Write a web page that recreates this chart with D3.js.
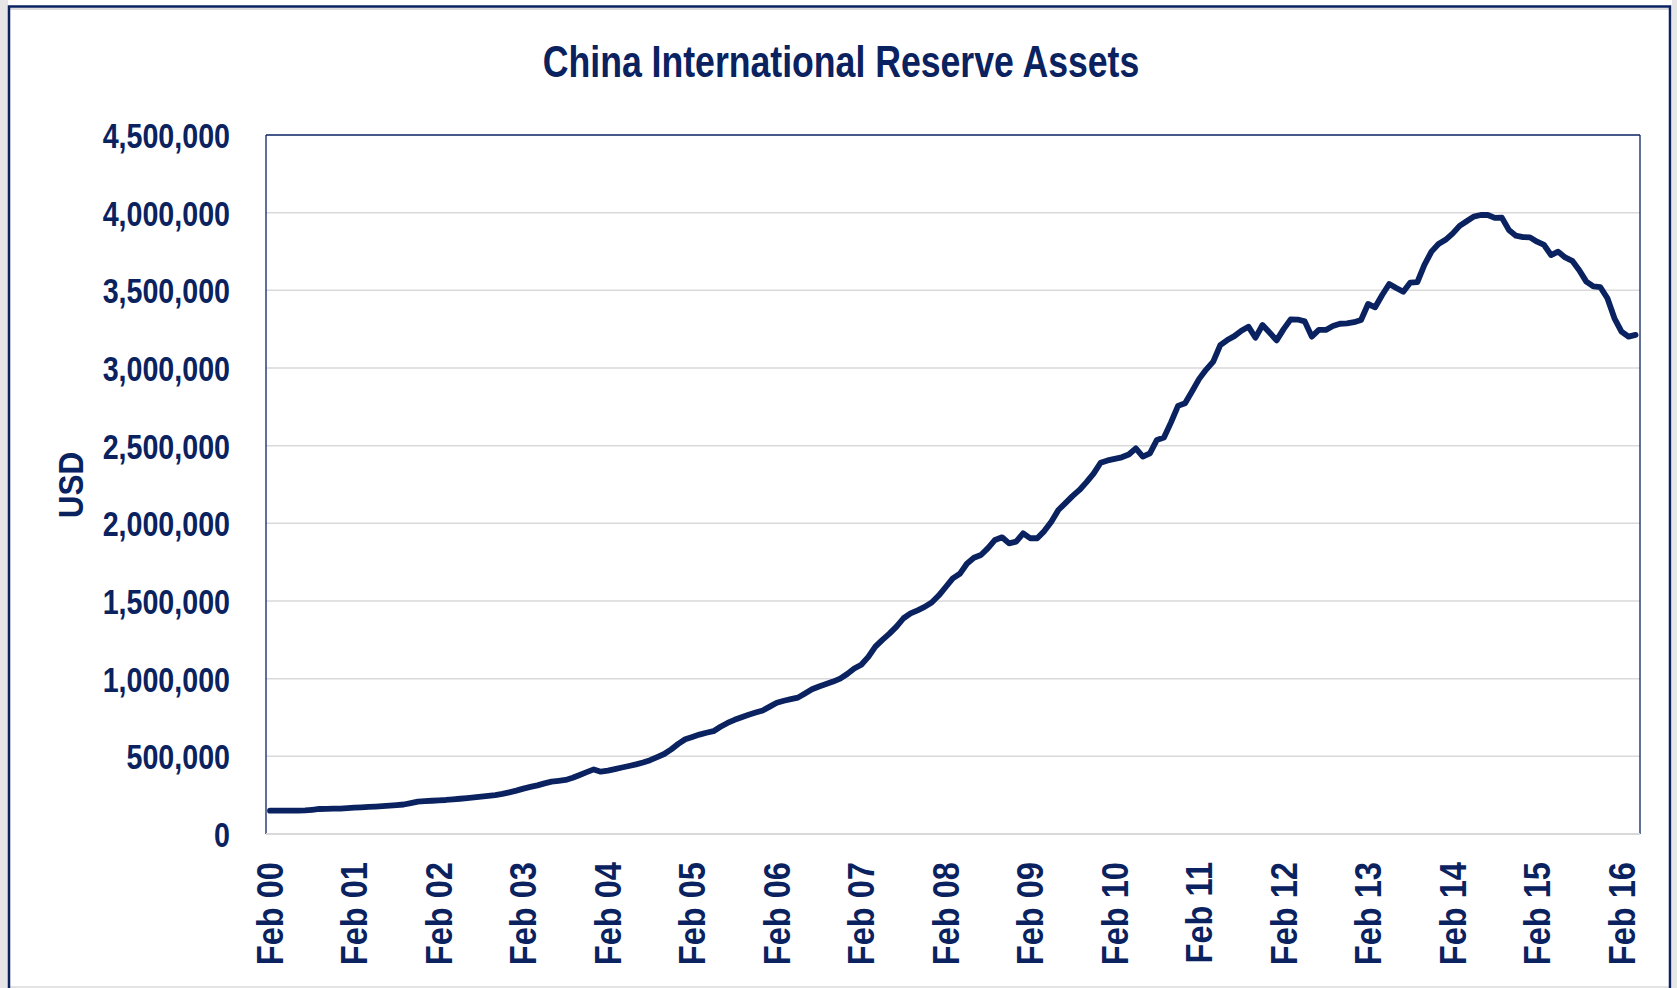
<!DOCTYPE html>
<html>
<head>
<meta charset="utf-8">
<script src="https://cdn.jsdelivr.net/npm/d3@7"></script>
<style>
  html, body { margin: 0; padding: 0; background: #ffffff; }
  svg { display: block; }
  text { font-family: "Liberation Sans", Arial, sans-serif; font-weight: bold; fill: #0a2260; }
</style>
</head>
<body>
<svg id="chart" width="1677" height="988"></svg>
<script>
// ---- data ----
const title = "China International Reserve Assets";
const yAxisTitle = "USD";
// monthly values, Feb 2000 .. Apr 2016
const reserves = [
  150000,150000,150000,151000,151000,152000,156000,161000,162000,163000,164000,
  167000,170000,172000,174000,176000,179000,182000,186000,190000,199000,208000,211000,
  214000,217000,219000,223000,227000,231000,236000,241000,246000,251000,258000,268000,
  279000,292000,303000,313000,326000,337000,342000,348000,362000,380000,398000,416000,
  401000,408000,418000,428000,438000,448000,460000,475000,495000,515000,545000,580000,
  610000,625000,640000,652000,662000,690000,715000,735000,752000,768000,782000,795000,
  820000,845000,858000,868000,878000,905000,932000,950000,966000,981000,1000000,1030000,
  1065000,1090000,1140000,1206000,1250000,1290000,1335000,1389000,1420000,1440000,1462000,1490000,
  1535000,1590000,1646000,1675000,1740000,1778000,1796000,1840000,1893000,1910000,1871000,1882000,
  1936000,1904000,1904000,1950000,2010000,2086000,2130000,2175000,2215000,2265000,2320000,2390000,
  2405000,2415000,2425000,2443000,2483000,2430000,2451000,2537000,2552000,2650000,2756000,2773000,
  2850000,2930000,2990000,3041000,3148000,3180000,3205000,3240000,3266000,3195000,3277000,3228000,
  3178000,3250000,3313000,3312000,3300000,3202000,3245000,3245000,3270000,3285000,3287000,3295000,
  3309000,3412000,3391000,3470000,3541000,3515000,3491000,3550000,3553000,3664000,3749000,3798000,
  3825000,3865000,3915000,3945000,3975000,3985000,3985000,3966000,3968000,3889000,3852000,3843000,
  3841000,3813000,3792000,3727000,3749000,3712000,3690000,3630000,3556000,3525000,3520000,3449000,
  3320000,3234000,3202000,3213000
];
const xTickLabels = ["Feb 00","Feb 01","Feb 02","Feb 03","Feb 04","Feb 05","Feb 06","Feb 07",
  "Feb 08","Feb 09","Feb 10","Feb 11","Feb 12","Feb 13","Feb 14","Feb 15","Feb 16"];
const xTickMonths = [0,12,24,36,48,60,72,84,96,108,120,132,144,156,168,180,192];
const yTicks = [0,500000,1000000,1500000,2000000,2500000,3000000,3500000,4000000,4500000];

// ---- layout ----
const NAVY = "#0a2260";
const plot = { left: 266, right: 1640, top: 135, bottom: 834 };

const svg = d3.select("#chart");

// outer frame
svg.append("rect").attr("x", 0).attr("y", 0).attr("width", 8).attr("height", 988).attr("fill", "#e6e6e6");
svg.append("rect").attr("x", 1672).attr("y", 0).attr("width", 5).attr("height", 988).attr("fill", "#e6e6e6");
svg.append("rect").attr("x", 9).attr("y", 8).attr("width", 1662).attr("height", 2).attr("fill", "#dcdcdc");
svg.append("rect").attr("x", 9).attr("y", 986).attr("width", 1662).attr("height", 2).attr("fill", "#e3e3e3");
svg.append("rect").attr("x", 9).attr("y", 6.5).attr("width", 1661).attr("height", 1000)
  .attr("fill", "none").attr("stroke", NAVY).attr("stroke-width", 2.5);

const x = d3.scaleLinear().domain([0, 192]).range([270, 1621.5]);
const y = d3.scaleLinear().domain([0, 4500000]).range([plot.bottom, plot.top]);

// gridlines
svg.append("g").selectAll("line").data(yTicks.filter(d => d > 0 && d < 4500000)).join("line")
  .attr("x1", plot.left).attr("x2", plot.right)
  .attr("y1", d => y(d)).attr("y2", d => y(d))
  .attr("stroke", "#d9d9d9").attr("stroke-width", 1.5);

// plot border: navy top/left/right, gray bottom
svg.append("line").attr("x1", plot.left).attr("x2", plot.right).attr("y1", y(4500000)).attr("y2", y(4500000))
  .attr("stroke", NAVY).attr("stroke-width", 1.5);
svg.append("line").attr("x1", plot.left).attr("x2", plot.left).attr("y1", plot.top).attr("y2", plot.bottom)
  .attr("stroke", NAVY).attr("stroke-width", 1.3);
svg.append("line").attr("x1", plot.right).attr("x2", plot.right).attr("y1", plot.top).attr("y2", plot.bottom)
  .attr("stroke", NAVY).attr("stroke-width", 1.3);
svg.append("line").attr("x1", plot.left).attr("x2", plot.right).attr("y1", y(0)).attr("y2", y(0))
  .attr("stroke", "#d9d9d9").attr("stroke-width", 1.8);

// y axis labels (via d3 axis, restyled)
const yAxis = d3.axisLeft(y).tickValues(yTicks).tickSize(0).tickPadding(0).tickFormat(d3.format(","));
const yg = svg.append("g").attr("transform", "translate(230,0)").call(yAxis);
yg.select(".domain").remove();
yg.selectAll(".tick text")
  .attr("x", 0).attr("dy", null).attr("y", 0)
  .attr("font-size", 34.5).attr("fill", NAVY)
  .attr("font-family", "'Liberation Sans', Arial, sans-serif").attr("font-weight", "bold")
  .attr("text-anchor", "end")
  .attr("transform", "translate(0,12.4) scale(0.83,1)");

// x axis labels
const xg = svg.append("g");
xg.selectAll("text").data(xTickMonths).join("text")
  .attr("transform", d => `translate(${x(d) + 13},862) rotate(-90) scale(0.905,1)`)
  .attr("text-anchor", "end")
  .attr("font-size", 36)
  .text((d, i) => xTickLabels[i]);

// line
const line = d3.line().x((d, i) => x(i)).y(d => y(d));
svg.append("path").datum(reserves)
  .attr("d", line)
  .attr("fill", "none").attr("stroke", NAVY).attr("stroke-width", 5.8)
  .attr("stroke-linejoin", "round").attr("stroke-linecap", "round");

// title
svg.append("text").attr("transform", "translate(841,76.7) scale(0.81,1)")
  .attr("text-anchor", "middle").attr("font-size", 44).text(title);

// y axis title
svg.append("text").attr("transform", "translate(83,485) rotate(-90) scale(0.9,1)")
  .attr("text-anchor", "middle").attr("font-size", 35).text(yAxisTitle);
</script>
</body>
</html>
